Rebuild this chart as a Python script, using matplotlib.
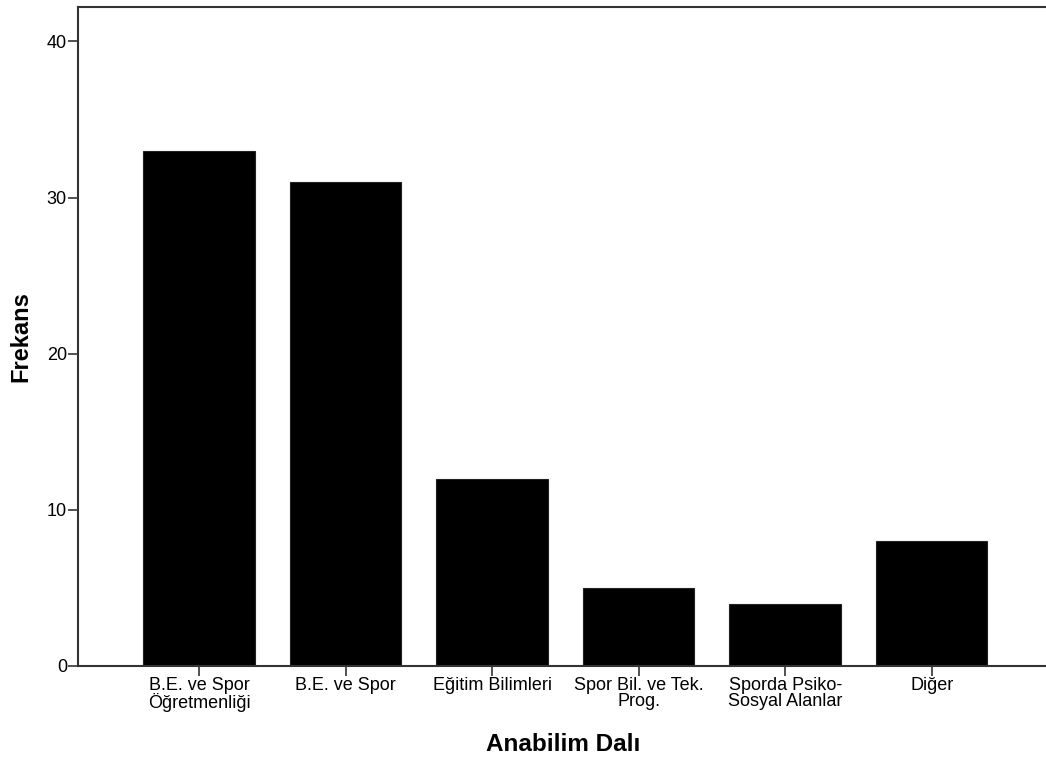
import matplotlib.pyplot as plt

plt.rcParams['font.family'] = ['Liberation Sans', 'DejaVu Sans']

# Anabilim dalı frekansları
categories = ['B.E. ve Spor\nÖğretmenliği', 'B.E. ve Spor', 'Eğitim Bilimleri',
              'Spor Bil. ve Tek.\nProg.', 'Sporda Psiko-\nSosyal Alanlar', 'Diğer']
frekans = [33, 31, 12, 5, 4, 8]
yticks = [0, 10, 20, 30, 40]

fig = plt.figure(figsize=(10.46, 7.62), dpi=100)
ax = fig.add_axes([0.0746, 0.126, 0.9254, 0.8648])

x = list(range(len(categories)))
ax.bar(x, frekans, width=0.76, color='black', edgecolor='#222222', linewidth=0.8)

ax.set_xlim(-0.826, 5.78)
ax.set_ylim(0, 42.2)
ax.set_xticks(x)
ax.set_xticklabels(categories, fontsize=13, linespacing=0.95)
ax.set_yticks(yticks)
ax.tick_params(axis='y', labelsize=13, length=7, width=1.2, color='#333333', pad=1)
ax.tick_params(axis='x', length=7, width=1.2, color='#333333', pad=1)

for s in ['left', 'bottom', 'top']:
    ax.spines[s].set_color('#333333')
    ax.spines[s].set_linewidth(1.5)
ax.spines['right'].set_visible(False)

ax.set_xlabel('Anabilim Dalı', fontsize=17.5, fontweight='bold')
ax.set_ylabel('Frekans', fontsize=17, fontweight='bold')
ax.xaxis.set_label_coords(0.5007, -0.102)
ax.yaxis.set_label_coords(-0.0475, 0.5)

fig.savefig('out.png', dpi=100)
